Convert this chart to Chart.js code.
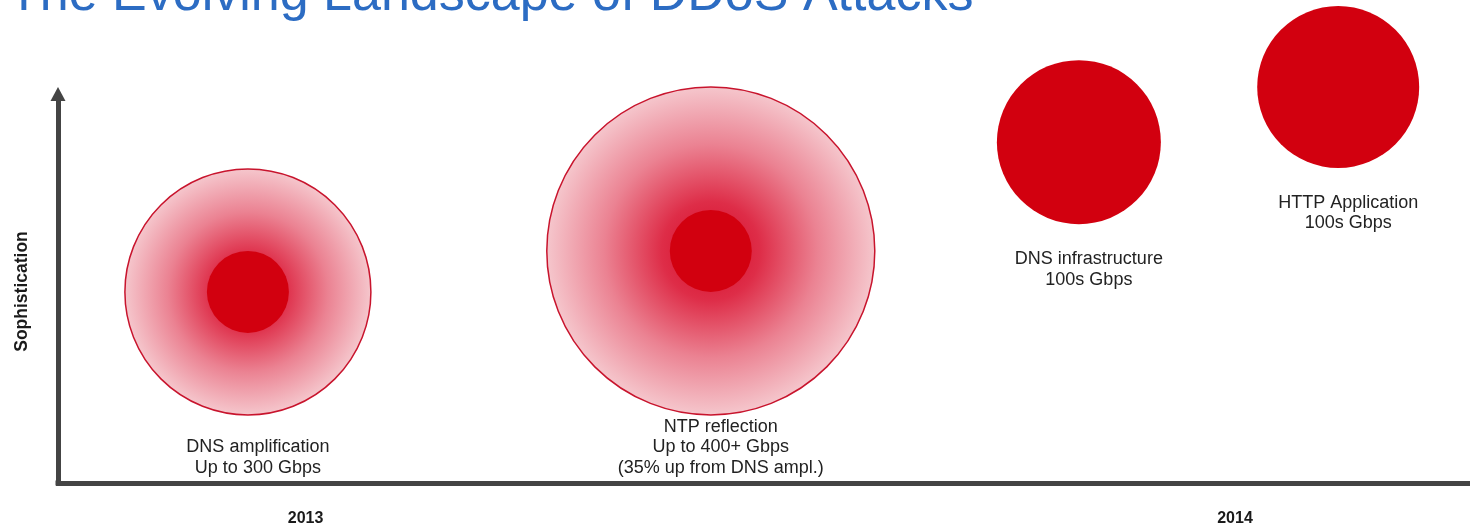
<!DOCTYPE html>
<html>
<head>
<meta charset="utf-8">
<title>The Evolving Landscape of DDoS Attacks</title>
<script src="https://cdn.jsdelivr.net/npm/chart.js@4.4.1/dist/chart.umd.min.js"></script>
<style>
  html, body { margin: 0; padding: 0; background: #ffffff; }
  #wrap { position: relative; width: 1470px; height: 525px; }
</style>
</head>
<body>
<div id="wrap"><canvas id="chart"></canvas></div>
<script>
// Attack types, in the order they appeared
const attackNames = ['DNS amplification', 'NTP reflection', 'DNS infrastructure', 'HTTP Application'];
const attackDetails = [
  ['Up to 300 Gbps'],
  ['Up to 400+ Gbps', '(35% up from DNS ampl.)'],
  ['100s Gbps'],
  ['100s Gbps']
];
// When each attack type peaked (fractional year)
const attackTime = [2012.938, 2013.436, 2013.832, 2014.111];
// Relative sophistication (0-100 scale)
const sophistication = [49.9, 60.6, 89.0, 103.4];
// Bubble radii: reflected/amplified spread and concentrated core
const spreadRadius = [123, 164, null, null];
const coreRadius = [41, 41, 82, 81];
// Axis text
const yearTicks = [2013, 2014];
const yAxisTitle = 'Sophistication';
const chartTitle = 'The Evolving Landscape of DDoS Attacks';

const RED = '#d2000f';
const AXIS = '#444444';
const FONT = '"Liberation Sans", Arial, Helvetica, sans-serif';

const corePoints = attackTime.map((t, i) => ({ x: t, y: sophistication[i], r: coreRadius[i] }));
const spreadPoints = attackTime
  .map((t, i) => ({ x: t, y: sophistication[i], r: spreadRadius[i] }))
  .filter(p => p.r !== null);

// Radial fade from deep red in the middle to pale pink at the rim
function spreadFill(c) {
  const chart = c.chart;
  const raw = c.raw;
  if (!raw || !chart.chartArea) return 'rgb(236,140,155)';
  const x = chart.scales.x.getPixelForValue(raw.x);
  const y = chart.scales.y.getPixelForValue(raw.y);
  const g = chart.ctx.createRadialGradient(x, y, 0, x, y, raw.r);
  g.addColorStop(0, 'rgb(214,10,40)');
  g.addColorStop(0.3, 'rgb(222,45,72)');
  g.addColorStop(0.65, 'rgb(235,130,146)');
  g.addColorStop(1, 'rgb(245,198,204)');
  return g;
}

// Headline across the top edge
const headlinePlugin = {
  id: 'headline',
  afterDraw(chart) {
    const ctx = chart.ctx;
    ctx.save();
    ctx.font = '52px ' + FONT;
    ctx.fillStyle = '#2c6cc3';
    ctx.textAlign = 'left';
    ctx.textBaseline = 'alphabetic';
    ctx.fillText(chartTitle, 8, 10);
    ctx.restore();
  }
};

// Arrow head on the sophistication axis and a filled axis corner
const axisArrowPlugin = {
  id: 'axisArrow',
  afterDraw(chart) {
    const { ctx, chartArea } = chart;
    const x = chartArea.left;
    const top = chartArea.top;
    ctx.save();
    ctx.fillStyle = AXIS;
    ctx.beginPath();
    ctx.moveTo(x, top - 13);
    ctx.lineTo(x - 7.5, top + 1);
    ctx.lineTo(x + 7.5, top + 1);
    ctx.closePath();
    ctx.fill();
    ctx.fillRect(x - 2.5, chartArea.bottom - 2.5, 5, 5);
    ctx.restore();
  }
};

// Captions under each bubble
const captionPlugin = {
  id: 'captions',
  afterDatasetsDraw(chart) {
    const ctx = chart.ctx;
    const meta = chart.getDatasetMeta(0);
    const lineH = 20.5;
    const floor = chart.chartArea.bottom - 15;
    ctx.save();
    ctx.font = '18px ' + FONT;
    ctx.fillStyle = '#222222';
    ctx.textAlign = 'center';
    ctx.textBaseline = 'middle';
    meta.data.forEach((el, i) => {
      const outer = Math.max(coreRadius[i], spreadRadius[i] || 0);
      const lines = [attackNames[i]].concat(attackDetails[i]);
      const y = Math.min(el.y + outer + 35, floor - (lines.length - 1) * lineH);
      const x = el.x + 10;
      lines.forEach((txt, k) => ctx.fillText(txt, x, y + k * lineH));
    });
    ctx.restore();
  }
};

new Chart(document.getElementById('chart'), {
  type: 'bubble',
  data: {
    datasets: [
      {
        label: 'Core',
        data: corePoints,
        backgroundColor: RED,
        borderColor: RED,
        borderWidth: 0,
        clip: false,
        order: 0
      },
      {
        label: 'Spread',
        data: spreadPoints,
        backgroundColor: spreadFill,
        borderColor: 'rgb(200,20,45)',
        borderWidth: 1.5,
        clip: false,
        order: 1
      }
    ]
  },
  options: {
    responsive: true,
    maintainAspectRatio: false,
    animation: false,
    events: [],
    layout: { autoPadding: false, padding: { top: 100, left: 0, right: 0, bottom: 0 } },
    plugins: {
      legend: { display: false },
      tooltip: { enabled: false },
      title: { display: false }
    },
    scales: {
      x: {
        type: 'linear',
        min: 2012.7337,
        max: 2014.2528,
        grid: { display: false, drawTicks: false },
        border: { display: true, color: AXIS, width: 5 },
        afterBuildTicks(scale) { scale.ticks = yearTicks.map(v => ({ value: v })); },
        afterFit(scale) { scale.height = 42; },
        ticks: {
          autoSkip: false,
          maxRotation: 0,
          padding: 26,
          color: '#1a1a1a',
          font: { family: FONT, size: 16, weight: 'bold' },
          callback: v => String(v)
        }
      },
      y: {
        type: 'linear',
        min: 0,
        max: 100,
        grid: { display: false, drawTicks: false },
        border: { display: true, color: AXIS, width: 5 },
        ticks: { display: false },
        afterFit(scale) { scale.width = 58; },
        title: {
          display: true,
          text: yAxisTitle,
          color: '#1a1a1a',
          font: { family: FONT, size: 17.5, weight: 'bold' },
          padding: { top: 12, bottom: 0 }
        }
      }
    }
  },
  plugins: [headlinePlugin, axisArrowPlugin, captionPlugin]
});
</script>
</body>
</html>
